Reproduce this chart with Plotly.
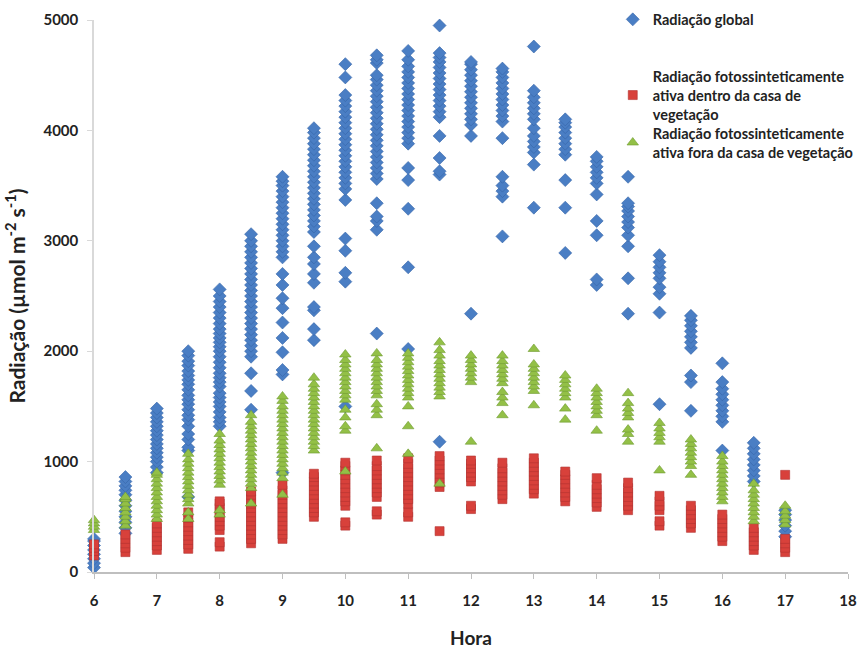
import plotly.graph_objects as go

hours = [6, 6.5, 7, 7.5, 8, 8.5, 9, 9.5, 10, 10.5, 11, 11.5,
         12, 12.5, 13, 13.5, 14, 14.5, 15, 15.5, 16, 16.5, 17]

global_rad = [
    [40, 80, 120, 160, 200, 240, 280, 300],
    [350, 400, 450, 500, 550, 600, 650, 700, 740, 780, 820, 860],
    [900, 950, 1000, 1040, 1080, 1120, 1160, 1200, 1240, 1280, 1320, 1360, 1400, 1440, 1480],
    [680, 1100, 1130, 1200, 1250, 1320, 1380, 1420, 1470, 1520, 1560, 1600, 1650, 1700, 1740, 1780, 1820, 1870, 1910, 1960, 2000],
    [1320, 1360, 1400, 1450, 1500, 1540, 1580, 1620, 1680, 1720, 1760, 1800, 1850, 1900, 1950, 2000, 2040, 2080, 2120, 2160, 2200, 2250, 2300, 2350, 2400, 2450, 2500, 2560],
    [1470, 1640, 1800, 1950, 2000, 2050, 2100, 2150, 2200, 2250, 2300, 2350, 2400, 2450, 2500, 2550, 2600, 2650, 2700, 2750, 2800, 2850, 2900, 2950, 3000, 3060],
    [900, 1790, 1830, 1990, 2120, 2260, 2390, 2480, 2600, 2700, 2850, 2900, 2950, 3000, 3050, 3100, 3150, 3200, 3250, 3300, 3350, 3400, 3450, 3500, 3540, 3580],
    [2100, 2200, 2370, 2400, 2620, 2700, 2790, 2850, 2950, 3080, 3130, 3180, 3230, 3280, 3330, 3380, 3430, 3480, 3530, 3580, 3630, 3680, 3730, 3780, 3830, 3880, 3930, 3980, 4020],
    [1500, 2630, 2710, 2910, 3020, 3370, 3470, 3520, 3570, 3620, 3670, 3720, 3770, 3820, 3870, 3920, 3970, 4020, 4070, 4120, 4170, 4220, 4270, 4320, 4480, 4600],
    [2160, 3100, 3180, 3220, 3340, 3560, 3610, 3660, 3710, 3760, 3810, 3860, 3910, 3960, 4010, 4060, 4110, 4160, 4210, 4260, 4310, 4360, 4410, 4460, 4500, 4610, 4640, 4680],
    [2020, 2760, 3290, 3550, 3660, 3880, 3930, 3980, 4030, 4080, 4130, 4180, 4230, 4280, 4330, 4380, 4430, 4480, 4530, 4580, 4640, 4720],
    [1180, 3600, 3630, 3750, 3950, 4120, 4170, 4220, 4270, 4320, 4370, 4420, 4470, 4520, 4570, 4620, 4660, 4700, 4950],
    [2340, 3950, 4050, 4100, 4150, 4200, 4250, 4300, 4350, 4400, 4450, 4500, 4550, 4600, 4620],
    [3040, 3400, 3450, 3500, 3580, 3930, 4080, 4130, 4180, 4230, 4280, 4330, 4380, 4430, 4480, 4530, 4560],
    [3300, 3690, 3800, 3850, 3900, 3950, 4020, 4100, 4150, 4200, 4250, 4300, 4360, 4760],
    [2890, 3300, 3550, 3780, 3830, 3880, 3930, 3980, 4030, 4070, 4100],
    [2600, 2650, 3050, 3180, 3420, 3520, 3570, 3620, 3670, 3720, 3760],
    [2340, 2660, 2950, 3050, 3120, 3170, 3220, 3270, 3310, 3340, 3580],
    [1520, 2350, 2520, 2580, 2660, 2710, 2760, 2810, 2870],
    [1460, 1720, 1780, 2030, 2080, 2130, 2180, 2230, 2280, 2320],
    [1100, 1360, 1410, 1460, 1510, 1560, 1610, 1660, 1720, 1890],
    [820, 870, 920, 970, 1020, 1070, 1120, 1170],
    [320, 370, 420, 470, 520, 560],
]

par_inside = [
    [150, 190, 220, 250],
    [180, 220, 260, 300, 340],
    [200, 240, 280, 320, 360, 400, 440],
    [210, 250, 290, 330, 370, 410, 450, 490, 540],
    [230, 270, 380, 420, 460, 500, 540, 580, 620, 640],
    [260, 300, 340, 380, 420, 460, 500, 540, 580, 620, 660, 700, 730],
    [300, 340, 380, 420, 460, 500, 540, 580, 620, 660, 700, 740, 790],
    [500, 540, 580, 620, 660, 700, 740, 780, 820, 860, 890],
    [420, 450, 600, 640, 680, 720, 760, 800, 840, 880, 920, 960, 990],
    [520, 550, 680, 720, 760, 800, 840, 880, 920, 960, 1010],
    [500, 540, 620, 660, 700, 740, 780, 820, 860, 900, 940, 980, 1030],
    [370, 770, 810, 850, 890, 930, 970, 1010, 1050],
    [570, 600, 820, 860, 900, 940, 980, 1010],
    [660, 700, 740, 780, 820, 860, 900, 940, 990],
    [710, 750, 790, 830, 870, 910, 950, 990, 1030],
    [640, 680, 720, 760, 800, 840, 880, 910],
    [590, 630, 670, 710, 750, 790, 850],
    [560, 600, 640, 680, 720, 760, 810],
    [420, 460, 560, 600, 640, 690],
    [400, 440, 480, 520, 560, 600],
    [280, 320, 360, 400, 440, 480, 520],
    [200, 240, 280, 320, 360, 400],
    [180, 220, 260, 300, 880],
]

par_outside = [
    [380, 410, 440, 470],
    [420, 460, 500, 540, 580, 620, 660, 680],
    [480, 520, 560, 600, 640, 680, 720, 760, 800, 840, 880, 900],
    [480, 540, 620, 660, 700, 740, 780, 820, 860, 900, 940, 980, 1020, 1070],
    [520, 560, 790, 830, 870, 910, 950, 990, 1030, 1070, 1110, 1150, 1190, 1250],
    [620, 760, 800, 840, 880, 920, 960, 1000, 1040, 1080, 1120, 1160, 1200, 1240, 1280, 1320, 1360, 1420],
    [700, 850, 900, 940, 980, 1020, 1060, 1100, 1140, 1180, 1220, 1260, 1300, 1340, 1380, 1420, 1460, 1500, 1550, 1590],
    [1100, 1140, 1180, 1220, 1260, 1300, 1340, 1380, 1420, 1460, 1500, 1540, 1580, 1620, 1660, 1700, 1760],
    [910, 1280, 1320, 1400, 1470, 1560, 1600, 1640, 1680, 1720, 1760, 1800, 1840, 1880, 1920, 1970],
    [1120, 1420, 1470, 1520, 1600, 1640, 1680, 1720, 1760, 1800, 1840, 1880, 1920, 1980],
    [1070, 1320, 1500, 1580, 1620, 1660, 1700, 1740, 1780, 1820, 1860, 1900, 1940, 1980],
    [800, 1590, 1630, 1670, 1710, 1750, 1790, 1830, 1870, 1910, 1960, 2010, 2080],
    [1180, 1720, 1760, 1800, 1840, 1880, 1920, 1960],
    [1420, 1530, 1580, 1630, 1710, 1750, 1790, 1830, 1870, 1910, 1960],
    [1510, 1640, 1680, 1720, 1760, 1800, 1840, 1880, 2020],
    [1380, 1480, 1580, 1620, 1660, 1700, 1740, 1780],
    [1280, 1420, 1460, 1500, 1540, 1580, 1620, 1660],
    [1180, 1250, 1290, 1400, 1440, 1480, 1530, 1620],
    [920, 1180, 1220, 1260, 1300, 1350],
    [880, 960, 1000, 1040, 1080, 1120, 1160, 1200],
    [640, 680, 720, 760, 800, 840, 880, 920, 960, 1000, 1050],
    [460, 500, 540, 580, 620, 660, 700, 740, 800],
    [430, 470, 510, 550, 600],
]

x_ticks = [6, 7, 8, 9, 10, 11, 12, 13, 14, 15, 16, 17, 18]
y_ticks = [0, 1000, 2000, 3000, 4000, 5000]

names = [
    "Radiação global",
    "Radiação fotossinteticamente<br>ativa dentro da casa de<br>vegetação",
    "Radiação fotossinteticamente<br>ativa fora da casa de vegetação",
]


def flatten(series):
    xs, ys = [], []
    for h, vals in zip(hours, series):
        for v in vals:
            xs.append(h)
            ys.append(v)
    return xs, ys


FONT = "Lato"
fig = go.Figure()

styles = [
    (global_rad, "diamond", 10, "#4a7ec4", "#3565a8", "legend"),
    (par_inside, "square", 9, "#d8413b", "#b23330", "legend2"),
    (par_outside, "triangle-up", 10, "#93c047", "#6f9a30", "legend3"),
]
for (series, sym, size, fill, line, lg), name in zip(styles, names):
    xs, ys = flatten(series)
    fig.add_trace(go.Scatter(
        x=xs, y=ys, mode="markers", name=name, legend=lg,
        cliponaxis=False,
        marker=dict(symbol=sym, size=size, color=fill,
                    line=dict(color=line, width=0.6)),
    ))

legend_common = dict(
    xanchor="left", yanchor="top", bgcolor="rgba(0,0,0,0)",
    font=dict(family=FONT, size=14.5, color="#222222", weight="bold"),
    itemwidth=30, tracegroupgap=0,
)

fig.update_layout(
    width=863, height=649,
    margin=dict(l=94, r=15, t=20, b=77, autoexpand=False),
    paper_bgcolor="white", plot_bgcolor="white",
    font=dict(family=FONT, color="#222222"),
    showlegend=True,
    legend=dict(x=0.688, y=1.03, **legend_common),
    legend2=dict(x=0.688, y=0.927, **legend_common),
    legend3=dict(x=0.688, y=0.824, **legend_common),
    xaxis=dict(
        range=[6, 18], tickvals=x_ticks, ticktext=[str(t) for t in x_ticks],
        showgrid=False, zeroline=False,
        showline=True, linecolor="#bfbfbf", linewidth=1.5,
        ticks="outside", ticklen=5, tickcolor="#bfbfbf",
        ticklabelstandoff=9,
        tickfont=dict(family=FONT, size=15, color="#222222", weight="bold"),
        title=dict(text="Hora", standoff=26,
                   font=dict(family=FONT, size=19, color="#222222", weight="bold")),
    ),
    yaxis=dict(
        range=[0, 5000], tickvals=y_ticks, ticktext=[str(t) for t in y_ticks],
        showgrid=False, zeroline=False,
        showline=True, linecolor="#d9d9d9", linewidth=1.5,
        ticks="outside", ticklen=5, tickcolor="#d9d9d9",
        ticklabelstandoff=6,
        tickfont=dict(family=FONT, size=15, color="#222222", weight="bold"),
        title=dict(text="Radiação (µmol m<sup>-2</sup> s<sup>-1</sup>)", standoff=12,
                   font=dict(family=FONT, size=21, color="#222222", weight="bold")),
    ),
)

fig.write_html("out.html", config={"displayModeBar": False},
               post_script="document.body.style.margin='0px';")
